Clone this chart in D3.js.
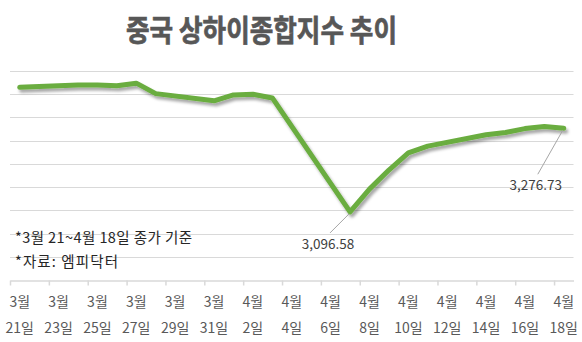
<!DOCTYPE html>
<html>
<head>
<meta charset="utf-8">
<script src="https://cdn.jsdelivr.net/npm/d3@7"></script>
<style>
  html, body { margin: 0; padding: 0; background: #fff; }
  svg { display: block; font-family: "Noto Sans CJK KR", "Noto Sans", sans-serif; }
</style>
</head>
<body>
<svg id="chart" width="582" height="342"></svg>
<script>
// Shanghai Composite closing prices, trading days only
const tradeDates = [
  "2025-03-21", "2025-03-24", "2025-03-25", "2025-03-26", "2025-03-27",
  "2025-03-28", "2025-03-31", "2025-04-01", "2025-04-02", "2025-04-03",
  "2025-04-07", "2025-04-08", "2025-04-09", "2025-04-10", "2025-04-11",
  "2025-04-14", "2025-04-15", "2025-04-16", "2025-04-17", "2025-04-18"
];
const closes = [
  3364.8, 3370.0, 3370.0, 3368.1, 3373.8,
  3351.3, 3335.8, 3348.4, 3350.1, 3342.0,
  3096.58, 3145.6, 3186.8, 3223.6, 3238.2,
  3262.8, 3267.7, 3276.0, 3280.3, 3276.73
];
// Axis labels every second calendar day
const tickDates = [
  "2025-03-21", "2025-03-23", "2025-03-25", "2025-03-27", "2025-03-29",
  "2025-03-31", "2025-04-02", "2025-04-04", "2025-04-06", "2025-04-08",
  "2025-04-10", "2025-04-12", "2025-04-14", "2025-04-16", "2025-04-18"
];
const yTicks = [2950, 3000, 3050, 3100, 3150, 3200, 3250, 3300, 3350, 3400];
const labeled = [
  { date: "2025-04-07", value: 3096.58, dx: -22, dy: 37 },
  { date: "2025-04-18", value: 3276.73, dx: -28, dy: 62 }
];
const title = "중국 상하이종합지수 추이";
const notes = ["*3월 21~4월 18일 종가 기준", "*자료: 엠피닥터"];

const parse = d3.utcParse("%Y-%m-%d");
const DAY = 864e5;
const mid = d => new Date(parse(d).getTime() + DAY / 2);

const svg = d3.select("#chart");
const x = d3.scaleUtc()
  .domain([parse("2025-03-21"), parse("2025-04-19")])
  .range([10, 573.5]);
const y = d3.scaleLinear().domain([2950, 3400]).range([280, 71]);

// drop shadow for the line
const defs = svg.append("defs");
const f = defs.append("filter").attr("id", "shadow")
  .attr("x", "-10%").attr("y", "-10%").attr("width", "120%").attr("height", "130%");
f.append("feDropShadow").attr("dx", 2).attr("dy", 3).attr("stdDeviation", 1.6)
  .attr("flood-color", "#000").attr("flood-opacity", 0.35);

// title
svg.append("text")
  .attr("x", 261.5).attr("y", 41)
  .attr("text-anchor", "middle")
  .attr("font-size", 30).attr("font-weight", "bold")
  .attr("fill", "#575757")
  .attr("stroke", "#575757").attr("stroke-width", 0.7)
  .attr("textLength", 271).attr("lengthAdjust", "spacingAndGlyphs")
  .text(title);

// horizontal gridlines
svg.append("g").selectAll("line")
  .data(yTicks.slice(1))
  .join("line")
  .attr("x1", 10).attr("x2", 573.5)
  .attr("y1", d => Math.round(y(d)) + 0.5).attr("y2", d => Math.round(y(d)) + 0.5)
  .attr("stroke", "#d9d9d9").attr("stroke-width", 1);

// category axis with two-line date labels
const fmtM = d3.utcFormat("%-m월");
const fmtD = d3.utcFormat("%-d일");
const axis = d3.axisBottom(x)
  .tickValues(tickDates.map(parse))
  .tickSize(5)
  .tickSizeOuter(0)
  .tickFormat("");
const gx = svg.append("g").attr("transform", "translate(0,280.5)").call(axis);
gx.select(".domain").attr("stroke", "#d9d9d9").attr("stroke-width", 1.5);
gx.selectAll(".tick line").attr("stroke", "#d9d9d9").attr("stroke-width", 1.5);

const lab = svg.append("g").attr("font-size", 14).attr("fill", "#595959").attr("text-anchor", "middle");
tickDates.forEach(d => {
  const cx = x(mid(d));
  lab.append("text").attr("x", cx).attr("y", 307).text(fmtM(parse(d)));
  lab.append("text").attr("x", cx).attr("y", 333).text(fmtD(parse(d)));
});

// notes
const noteWidths = [177, 103];
svg.append("g").attr("font-size", 14.5).attr("fill", "#262626")
  .selectAll("text").data(notes).join("text")
  .attr("x", 15).attr("y", (d, i) => 243 + i * 23.5)
  .attr("textLength", (d, i) => noteWidths[i])
  .attr("lengthAdjust", "spacing")
  .text(d => d);

// price line
const pts = tradeDates.map((d, i) => ({ date: mid(d), value: closes[i] }));
const line = d3.line().x(d => x(d.date)).y(d => y(d.value));
svg.append("path")
  .datum(pts)
  .attr("d", line)
  .attr("fill", "none")
  .attr("stroke", "#6aad3f")
  .attr("stroke-width", 5)
  .attr("stroke-linejoin", "round")
  .attr("stroke-linecap", "round")
  .attr("filter", "url(#shadow)");

// value labels with leader lines
const fmtV = d3.format(",.2f");
labeled.forEach(l => {
  const px = x(mid(l.date)), py = y(l.value);
  const tx = px + l.dx, ty = py + l.dy;
  svg.append("line")
    .attr("x1", px - 1).attr("y1", py + 2)
    .attr("x2", tx + 2).attr("y2", ty - 16)
    .attr("stroke", "#a6a6a6").attr("stroke-width", 1);
  svg.append("text")
    .attr("x", tx).attr("y", ty)
    .attr("text-anchor", "middle")
    .attr("font-size", 13.5).attr("fill", "#404040")
    .text(fmtV(l.value));
});
</script>
</body>
</html>
